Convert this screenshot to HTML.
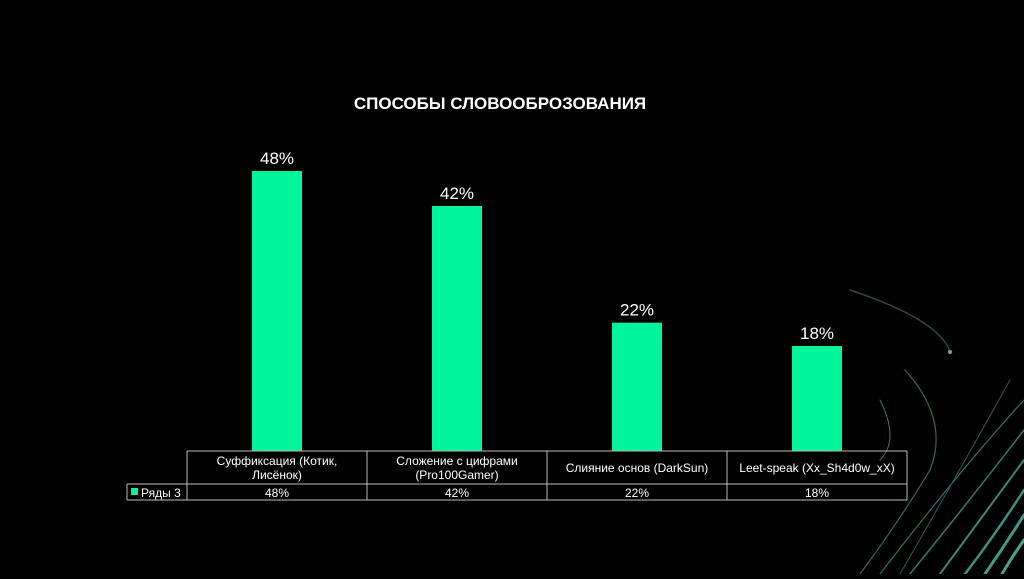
<!DOCTYPE html>
<html><head><meta charset="utf-8"><style>
body{margin:0;background:#000;width:1024px;height:574px;overflow:hidden;font-family:"Liberation Sans",sans-serif}
</style></head><body>
<svg id="c" width="1024" height="574" xmlns="http://www.w3.org/2000/svg">
<g fill="none" stroke-linecap="round">
<path d="M850 290 Q940 320 950 352" stroke="#3a6a62" stroke-width="1.5" opacity="0.7"/>
<circle cx="950" cy="352" r="2" fill="#6aa99c" stroke="none"/>
<path d="M905 370 Q950 420 930 470 Q900 520 860 574" stroke="#2f6b60" stroke-width="1.2"/>
<path d="M880 400 Q900 440 880 460" stroke="#3a7a70" stroke-width="1"/>
<path d="M1024 400 Q960 470 880 574" stroke="#2d7266" stroke-width="1.2"/>
<path d="M1024 430 Q970 500 910 574" stroke="#327b6e" stroke-width="1.5"/>
<path d="M1024 460 Q980 520 940 574" stroke="#3b8878" stroke-width="2"/>
<path d="M1024 490 Q995 535 965 574" stroke="#3f8f80" stroke-width="2.5"/>
<path d="M1024 515 Q1005 545 985 574" stroke="#44998a" stroke-width="3"/>
<path d="M1024 540 Q1010 560 1002 574" stroke="#4aa090" stroke-width="3"/>
<path d="M1010 380 Q960 470 900 574" stroke="#285f56" stroke-width="1"/>
</g>
<text x="500" y="109" text-anchor="middle" fill="#fff" font-size="17" font-weight="bold">СПОСОБЫ СЛОВООБРОЗОВАНИЯ</text>
<g id="bars"></g>
<g id="tbl"></g>
</svg>
<script>
const categories=["Суффиксация (Котик,|Лисёнок)","Сложение с цифрами|(Pro100Gamer)","Слияние основ (DarkSun)","Leet-speak (Xx_Sh4d0w_xX)"];
const values=[48,42,22,18];
const valueLabels=["48%","42%","22%","18%"];
const seriesName="Ряды 3";
const NS="http://www.w3.org/2000/svg";
const x0=187,colW=180,base=451,pxPer=280/48,barW=50;
const xPos=i=>x0+colW*i+colW/2;
const yPos=v=>base-v*pxPer;
function mk(t,a,p){const e=document.createElementNS(NS,t);for(const k in a)e.setAttribute(k,a[k]);p.appendChild(e);return e;}
const bars=document.getElementById('bars'),tbl=document.getElementById('tbl');
values.forEach((v,i)=>{
 const r=mk('rect',{x:xPos(i)-barW/2,y:yPos(v),width:barW,height:base-yPos(v),fill:'#00f59b'},bars);
 
 
 const t=mk('text',{x:xPos(i),y:yPos(v)-7,'text-anchor':'middle',fill:'#fff','font-size':'17'},bars);
 t.textContent=valueLabels[i];
 
 
});
const n=values.length,xEnd=x0+colW*n,h1=484,h2=500;
const ls={stroke:'#bbb','stroke-width':1};
[[x0,base,xEnd,base],[127,h1,xEnd,h1],[127,h2,xEnd,h2],[127,h1,127,h2]].forEach(l=>{const e=mk('line',Object.assign({x1:l[0],y1:l[1],x2:l[2],y2:l[3]},ls),tbl);});
for(let i=0;i<=n;i++){const e=mk('line',Object.assign({x1:x0+colW*i,y1:base,x2:x0+colW*i,y2:h2},ls),tbl);}
categories.forEach((c,i)=>{
 const parts=c.split('|');
 parts.forEach((p,j)=>{
  const y=parts.length==1?472:465+j*14;
  const t=mk('text',{x:xPos(i),y:y,'text-anchor':'middle',fill:'#fff','font-size':'12'},tbl);
  t.textContent=p;
  
  
 });
 const t=mk('text',{x:xPos(i),y:497,'text-anchor':'middle',fill:'#fff','font-size':'12'},tbl);
 t.textContent=valueLabels[i];
 
 
});
const sw=mk('rect',{x:131,y:488,width:7,height:7,fill:'#00f59b'},tbl);


const lt=mk('text',{x:141,y:497,fill:'#fff','font-size':'12'},tbl);
lt.textContent=seriesName;


</script>
</body></html>
